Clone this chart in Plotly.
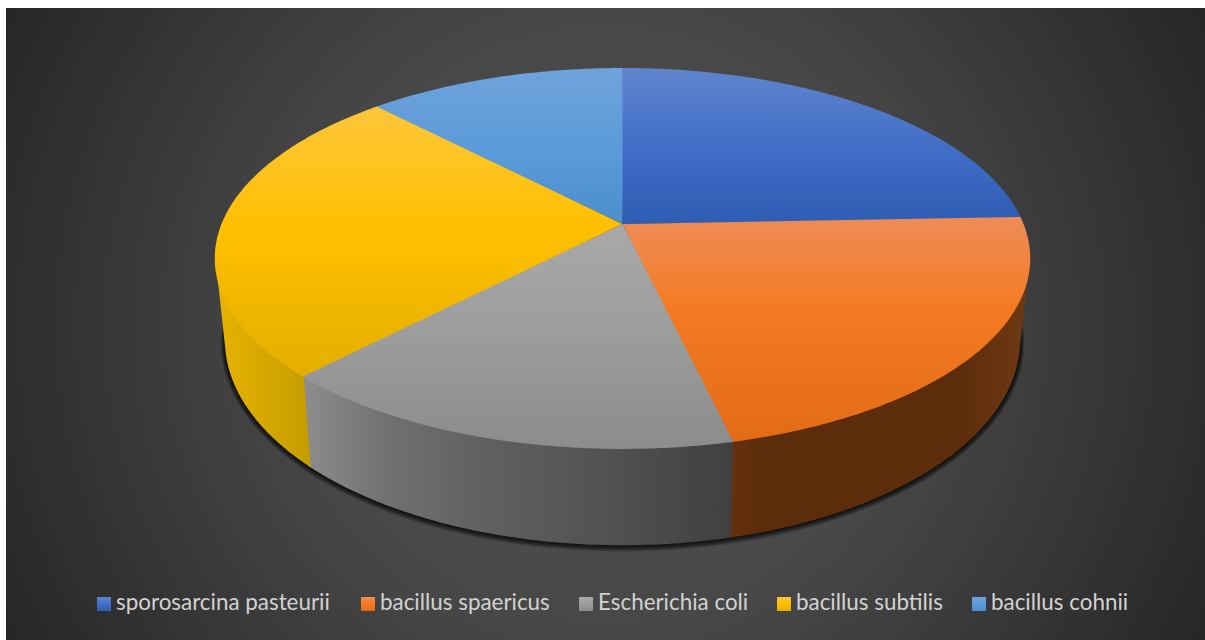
import numpy as np
import plotly.graph_objects as go

# Species shares and their styling
species = ["sporosarcina pasteurii", "bacillus spaericus", "Escherichia coli", "bacillus subtilis", "bacillus cohnii"]
shares = [2.0, 1.8, 1.3, 2.1, 1.0]
top_colors = [
    [[0, "#6085cd"], [0.55, "#3f6cc6"], [1, "#2e5db3"]],
    [[0, "#ee8c58"], [0.4, "#f47b24"], [1, "#e36b15"]],
    [[0, "#a9a9a9"], [0.5, "#9c9c9c"], [1, "#8c8c8c"]],
    [[0, "#fdc63c"], [0.45, "#ffc000"], [1, "#e4af00"]],
    [[0, "#6fa3dc"], [0.55, "#5a9ad8"], [1, "#4a8fcc"]],
]
wall_colors = [
    [[0, "#1f3864"], [1, "#1f3864"]],
    [[0, "#663210"], [0.1, "#5c2c0b"], [0.75, "#5c2c0b"], [1, "#6e3a14"]],
    [[0, "#8e8e8e"], [0.2, "#707070"], [0.45, "#5f5f5f"], [0.7, "#525252"], [1, "#404040"]],
    [[0, "#e8b300"], [1, "#c49c00"]],
    [[0, "#2e6ba6"], [1, "#2e6ba6"]],
]
legend_swatch_x = [97, 361, 579, 777, 972]
legend_text_x = [116, 380, 598, 796, 991]

# Perspective parameters of the disc, in pixels of the plot
CX, CY = 622.5, 224.0
AX, BY, K = 401.0, 184.2, 0.181
BOTTOM_SX, BOTTOM_SY, BOTTOM_CY = 0.975, 1.077, 303.0
OVERLAP = np.radians(0.4)


def project(theta, sx=1.0, sy=1.0, cy=CY):
    """Map clockwise-from-top angles on the unit disc to plot coordinates."""
    x_disc, y_disc = np.sin(theta), -np.cos(theta)
    w = 1 - K * y_disc
    return CX + sx * AX * x_disc / w, cy + sy * BY * y_disc / w


def visible_wall_range():
    """Angles between which the rim wall faces the viewer."""
    t = np.linspace(0, 2 * np.pi, 3601)
    xt, yt = project(t)
    xb, yb = project(t, BOTTOM_SX, BOTTOM_SY, BOTTOM_CY)
    cross = np.gradient(xt) * (yb - yt) - np.gradient(yt) * (xb - xt)
    front = t[cross < 0]
    return front.min(), front.max()


total = sum(shares)
edges = 2 * np.pi * np.cumsum([0] + shares) / total
wall_lo, wall_hi = visible_wall_range()

fig = go.Figure()

# Radial backdrop: an oversized square so the gradient stays circular
half = 700
fig.add_trace(go.Scatter(
    x=[605 - half, 605 + half, 605 + half, 605 - half, 605 - half],
    y=[324 - half, 324 - half, 324 + half, 324 + half, 324 - half],
    mode="none", fill="toself", hoverinfo="skip", showlegend=False,
    fillgradient=dict(type="radial", colorscale=[[0, "#525252"], [0.45, "#474747"], [1, "#242424"]]),
))

# Soft shadow beneath the disc
whole = np.linspace(0, 2 * np.pi, 361)
for grow in range(8, 0, -1):
    sx_, sy_ = project(whole, BOTTOM_SX * (1 + grow * 0.0013), BOTTOM_SY * (1 + grow * 0.002), BOTTOM_CY + grow * 0.3)
    fig.add_trace(go.Scatter(x=sx_, y=sy_, mode="none", fill="toself", hoverinfo="skip", showlegend=False,
                             fillcolor="rgba(0,0,0,0.14)"))

# Side walls, only the part of each slice's rim that faces the viewer.
# Each wall reaches slightly under its neighbour and under the top face.
for i in range(len(shares)):
    lo, hi = max(edges[i], wall_lo), min(edges[i + 1] + OVERLAP, wall_hi)
    if lo >= hi:
        continue
    t = np.linspace(lo, hi, 90)
    xt, yt = project(t, 0.997, 0.992)
    xb, yb = project(t, BOTTOM_SX, BOTTOM_SY, BOTTOM_CY)
    xs = np.concatenate([xt, xb[::-1]])
    ys = np.concatenate([yt, yb[::-1]])
    fig.add_trace(go.Scatter(
        x=xs, y=ys, mode="none", fill="toself", hoverinfo="skip", showlegend=False,
        fillgradient=dict(type="horizontal", colorscale=wall_colors[i], start=float(xs.min()), stop=float(xs.max())),
    ))

# Top faces; each runs slightly under the next one so no seam shows
for i, name in enumerate(species):
    lo = edges[i] - (OVERLAP if i == 0 else 0)
    hi = edges[i + 1] + (OVERLAP if i < len(species) - 1 else 0)
    t = np.linspace(lo, hi, 120)
    xt, yt = project(t)
    ys = np.concatenate([[CY], yt, [CY]])
    fig.add_trace(go.Scatter(
        x=np.concatenate([[CX], xt, [CX]]), y=ys,
        mode="none", fill="toself", name=name, showlegend=False,
        hovertemplate=f"{name}: {shares[i]}<extra></extra>",
        fillgradient=dict(type="vertical", colorscale=top_colors[i], start=float(ys.min()), stop=float(ys.max())),
    ))

# Legend row
for sx0, tx0, name, scale in zip(legend_swatch_x, legend_text_x, species, top_colors):
    fig.add_trace(go.Scatter(
        x=[sx0, sx0 + 14, sx0 + 14, sx0, sx0], y=[597, 597, 611, 611, 597],
        mode="none", fill="toself", hoverinfo="skip", showlegend=False,
        fillgradient=dict(type="vertical", colorscale=scale, start=597, stop=611),
    ))
    fig.add_annotation(x=tx0, y=601.5, text=name, showarrow=False, xanchor="left", yanchor="middle", xshift=-2,
                       font=dict(family="Lato", size=22.4, color="#d2d2d2", weight=400))

fig.update_xaxes(range=[6, 1205], visible=False, fixedrange=True)
fig.update_yaxes(range=[640, 8], visible=False, fixedrange=True)
fig.update_layout(
    width=1205, height=640, margin=dict(l=6, r=0, t=8, b=0),
    paper_bgcolor="white", plot_bgcolor="#333333", showlegend=False,
)
fig.write_html("out.html")
